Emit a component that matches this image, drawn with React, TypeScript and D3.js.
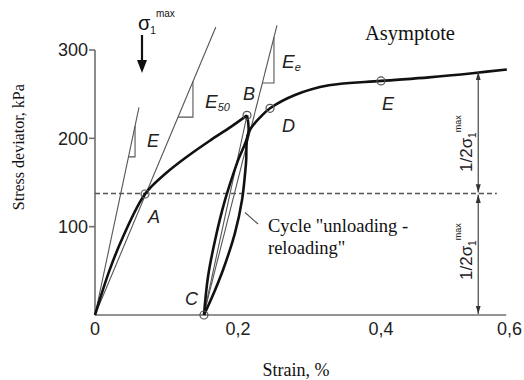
import React from 'react';
import * as d3 from 'd3';

// strain in %, stress deviator in kPa
const strainTicks = [0, 0.2, 0.4, 0.6];
const stressTicks = [100, 200, 300];

// primary loading 0 -> B
const loadStrain = [0, 0.02, 0.04, 0.07, 0.1, 0.13, 0.16, 0.19, 0.2126];
const loadStress = [0, 50, 90, 137, 161, 180, 197, 213, 226];

// unloading B -> C
const unloadStrain = [0.2126, 0.2145, 0.1986, 0.1818, 0.168, 0.158, 0.1524];
const unloadStress = [226, 206, 172, 130, 85, 43, 0];

// reloading C -> D -> E -> asymptote
const reloadStrain = [0.1524, 0.1636, 0.179, 0.1958, 0.2056, 0.2112, 0.2145, 0.2336, 0.2448, 0.2797, 0.327, 0.4, 0.467, 0.531, 0.576];
const reloadStress = [0, 20, 51, 93, 130, 172, 206, 226, 234, 249, 260, 265, 269, 274, 278];

// straight lines: [strain0, stress0, strain1, stress1]
const lineE = [0, 0, 0.0615, 235];
const lineE50 = [0, 0, 0.169, 326];
const lineEe = [0.152, 0, 0.2545, 328];
const chordCB = [0.152, 0, 0.2126, 226];

// marked points
const pointNames = ['A', 'B', 'C', 'D', 'E'];
const pointStrain = [0.07, 0.2126, 0.1524, 0.2448, 0.4];
const pointStress = [137, 226, 0, 234, 265];

const maxStress = 275;
const halfStress = 137.5;

const W = 524;
const H = 380;

const x = d3.scaleLinear().domain([0, 0.6]).range([95, 524]);
const y = d3.scaleLinear().domain([0, 300]).range([315, 50]);

const curve = d3.line<[number, number]>()
  .x(d => x(d[0]))
  .y(d => y(d[1]))
  .curve(d3.curveCatmullRom.alpha(0.5));

const zip = (a: number[], b: number[]) => a.map((v, i) => [v, b[i]] as [number, number]);

// slope triangle: horizontal leg at stress sC up to corner strain eC, vertical leg up to the line
const triangle = (l: number[], eC: number, sC: number) => {
  const k = (l[3] - l[1]) / (l[2] - l[0]);
  const e0 = l[0] + (sC - l[1]) / k;
  const s1 = l[1] + k * (eC - l[0]);
  return `M${x(e0)},${y(sC)}L${x(eC)},${y(sC)}L${x(eC)},${y(s1)}`;
};

const sans = 'Liberation Sans, Arial, sans-serif';
const serif = 'Liberation Serif, Times New Roman, serif';
const axisColor = '#6f6f6f';
const thin = '#555';

const App: React.FC = () => {
  const arrowX = x(0.536);
  return (
    <svg width={W} height={H} style={{ position: 'absolute', left: 0, top: 0, background: '#fff' }}>
      {/* axes */}
      <line x1={x(0)} x2={x(0)} y1={y(0)} y2={y(300)} stroke={axisColor} strokeWidth={1.6} />
      <line x1={x(0)} x2={x(0.575)} y1={y(0)} y2={y(0)} stroke={axisColor} strokeWidth={1.6} />
      {stressTicks.map(t => (
        <g key={t}>
          <line x1={x(0) - 6} x2={x(0)} y1={y(t)} y2={y(t)} stroke={axisColor} strokeWidth={1.6} />
          <text x={x(0) - 7} y={y(t)} dy="0.36em" textAnchor="end" fontFamily={sans} fontSize={18} fill="#222">{t}</text>
        </g>
      ))}
      {strainTicks.map((t, i) => (
        <text key={t} x={i === strainTicks.length - 1 ? x(t) - 2 : x(t)} y={335}
          textAnchor={i === strainTicks.length - 1 ? 'end' : 'middle'}
          fontFamily={sans} fontSize={18} fill="#222">{t === 0 ? '0' : String(t).replace('.', ',')}</text>
      ))}
      <text transform={`translate(24,${y(190)}) rotate(-90)`} textAnchor="middle" fontFamily={serif} fontSize={16} fill="#111">Stress deviator, kPa</text>
      <text x={x(0.281)} y={376} textAnchor="middle" fontFamily={serif} fontSize={18} fill="#111">Strain, %</text>

      {/* half max dashed level */}
      <line x1={x(0)} x2={x(0.562)} y1={y(halfStress)} y2={y(halfStress)} stroke={thin} strokeWidth={1.4} strokeDasharray="5,3" />

      {/* moduli lines */}
      {[lineE, lineE50, lineEe, chordCB].map((l, i) => (
        <line key={i} x1={x(l[0])} y1={y(l[1])} x2={x(l[2])} y2={y(l[3])} stroke={thin} strokeWidth={1.1} />
      ))}
      <path d={triangle(lineE, 0.056, 179)} fill="none" stroke={thin} strokeWidth={1.1} />
      <path d={triangle(lineE50, 0.137, 224)} fill="none" stroke={thin} strokeWidth={1.1} />
      <path d={triangle(lineEe, 0.2503, 262.6)} fill="none" stroke={thin} strokeWidth={1.1} />

      {/* stress-strain curves */}
      <path d={curve(zip(loadStrain, loadStress)) ?? ''} fill="none" stroke="#111" strokeWidth={2.6} />
      <path d={curve(zip(unloadStrain, unloadStress)) ?? ''} fill="none" stroke="#111" strokeWidth={2.6} />
      <path d={curve(zip(reloadStrain, reloadStress)) ?? ''} fill="none" stroke="#111" strokeWidth={2.6} />

      {/* points */}
      {pointNames.map((n, i) => (
        <circle key={n} cx={x(pointStrain[i])} cy={y(pointStress[i])} r={4} fill="none" stroke={thin} strokeWidth={1.2} />
      ))}

      {/* point / modulus labels */}
      <g fontFamily={sans} fontStyle="italic" fontSize={18} fill="#222">
        <text x={148} y={223}>A</text>
        <text x={243} y={100}>B</text>
        <text x={185} y={305}>C</text>
        <text x={282} y={132}>D</text>
        <text x={382} y={110}>E</text>
        <text x={147} y={147}>E</text>
        <text x={205} y={108} fontSize={19}>E<tspan fontSize={11} dy={3}>50</tspan></text>
        <text x={282} y={68} fontSize={19}>E<tspan fontSize={11} dy={3}>e</tspan></text>
      </g>

      {/* sigma max arrow */}
      <text x={138} y={30} fontFamily={sans} fontSize={20} fill="#111">σ<tspan fontSize={10} dy={4}>1</tspan><tspan fontSize={10} dy={-17}>max</tspan></text>
      <line x1={142} x2={142} y1={35} y2={62} stroke="#111" strokeWidth={2.2} />
      <path d="M137,60L147,60L142,73Z" fill="#111" />

      {/* double arrows for half max */}
      <defs>
        <marker id="ah" viewBox="0 0 10 10" refX={10} refY={5} markerWidth={7} markerHeight={7} orient="auto-start-reverse">
          <path d="M0,2L10,5L0,8Z" fill="#333" />
        </marker>
      </defs>
      <line x1={arrowX} x2={arrowX} y1={y(maxStress)} y2={y(halfStress) - 1} stroke="#444" strokeWidth={1.2} markerStart="url(#ah)" markerEnd="url(#ah)" />
      <line x1={arrowX} x2={arrowX} y1={y(halfStress) + 1} y2={y(0) - 1} stroke="#444" strokeWidth={1.2} markerStart="url(#ah)" markerEnd="url(#ah)" />
      {[172, 280].map(py => (
        <text key={py} transform={`translate(${arrowX - 6},${py}) rotate(-90)`} fontFamily={sans} fontSize={17} fill="#222">
          1/2σ<tspan fontSize={10} dy={4}>1</tspan><tspan fontSize={9} dy={-15}>max</tspan>
        </text>
      ))}

      {/* annotations */}
      <text x={365} y={40} fontFamily={serif} fontSize={20.5} fill="#111">Asymptote</text>
      <line x1={x(0.2098)} y1={y(116)} x2={x(0.228)} y2={y(103)} stroke={thin} strokeWidth={1.1} />
      <text x={268} y={232} fontFamily={serif} fontSize={18.5} fill="#111">Cycle "unloading -</text>
      <text x={268} y={254} fontFamily={serif} fontSize={18.5} fill="#111">reloading"</text>
    </svg>
  );
};

export default App;
